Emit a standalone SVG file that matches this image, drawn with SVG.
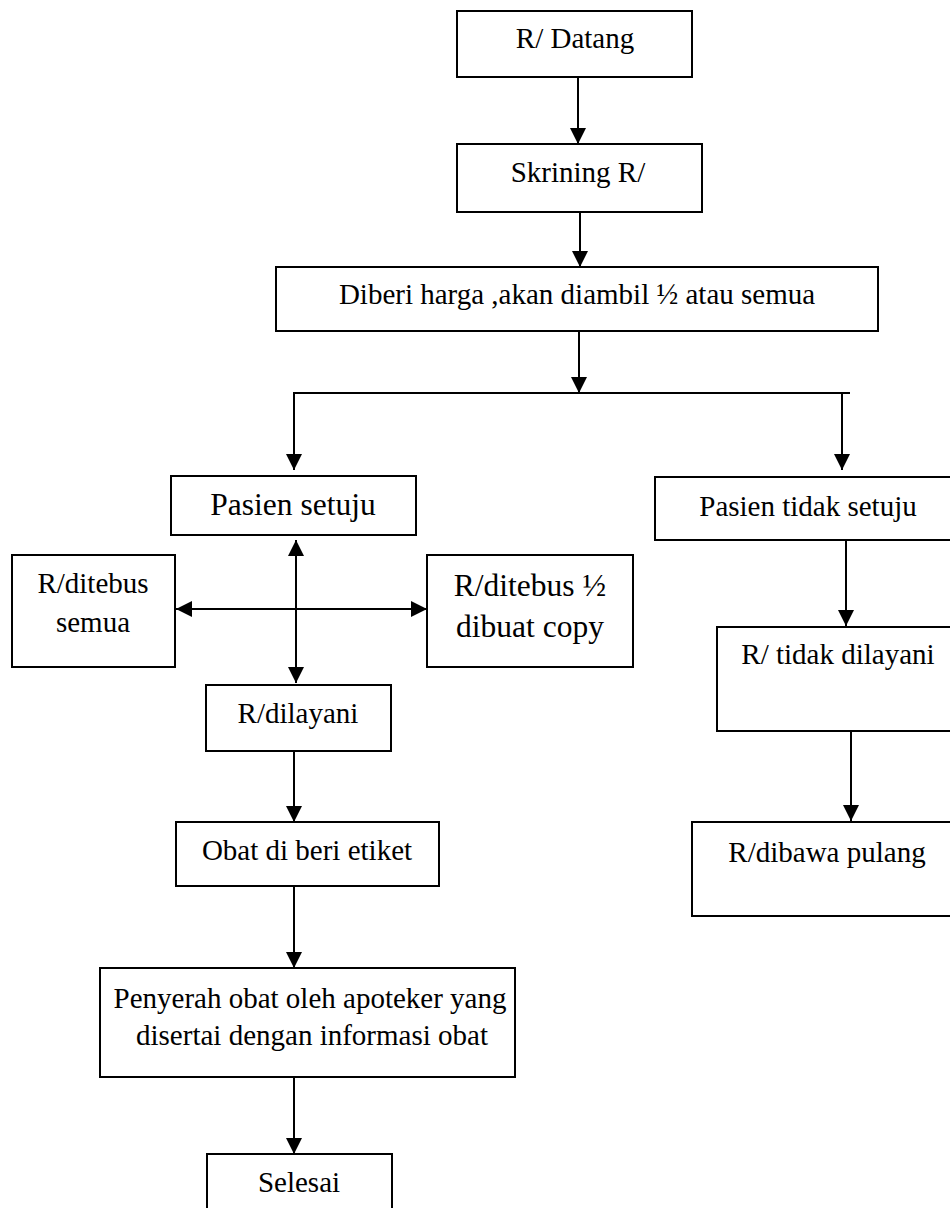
<svg xmlns="http://www.w3.org/2000/svg" width="950" height="1208" viewBox="0 0 950 1208">
<style>
.box{fill:#fff;stroke:#000;stroke-width:2}
.t{font-family:"Liberation Serif","Times New Roman",serif;font-size:29px;fill:#000;text-anchor:middle}
.tl{font-size:31.5px}
.ln{fill:none;stroke:#000;stroke-width:2}
</style>
<defs>
<marker id="ah" viewBox="0 0 16 16" refX="16" refY="8" markerWidth="16" markerHeight="16" markerUnits="userSpaceOnUse" orient="auto-start-reverse">
<path d="M0,0 L16,8 L0,16 Z" fill="#000"/>
</marker>
</defs>
<rect width="950" height="1208" fill="#fff"/>
<g id="connectors">
<line class="ln" x1="578" y1="77" x2="578" y2="144" marker-end="url(#ah)"/>
<line class="ln" x1="580" y1="212" x2="580" y2="267" marker-end="url(#ah)"/>
<line class="ln" x1="579" y1="331" x2="579" y2="393" marker-end="url(#ah)"/>
<line class="ln" x1="293" y1="393" x2="850" y2="393"/>
<line class="ln" x1="294" y1="392" x2="294" y2="470" marker-end="url(#ah)"/>
<line class="ln" x1="842" y1="392" x2="842" y2="470" marker-end="url(#ah)"/>
<line class="ln" x1="296" y1="540" x2="296" y2="683" marker-start="url(#ah)" marker-end="url(#ah)"/>
<line class="ln" x1="176" y1="609" x2="427" y2="609" marker-start="url(#ah)" marker-end="url(#ah)"/>
<line class="ln" x1="294" y1="751" x2="294" y2="822" marker-end="url(#ah)"/>
<line class="ln" x1="294" y1="886" x2="294" y2="968" marker-end="url(#ah)"/>
<line class="ln" x1="294" y1="1077" x2="294" y2="1154" marker-end="url(#ah)"/>
<line class="ln" x1="846" y1="540" x2="846" y2="626" marker-end="url(#ah)"/>
<line class="ln" x1="851" y1="731" x2="851" y2="821" marker-end="url(#ah)"/>
</g>
<g id="n-datang"><rect class="box" x="457" y="11" width="235" height="66"/><text class="t" x="575" y="48">R/ Datang</text></g>
<g id="n-skrining"><rect class="box" x="457" y="144" width="245" height="68"/><text class="t" x="578" y="182">Skrining R/</text></g>
<g id="n-harga"><rect class="box" x="276" y="267" width="602" height="64"/><text class="t" x="577" y="304">Diberi harga ,akan diambil ½ atau semua</text></g>
<g id="n-setuju"><rect class="box" x="171" y="476" width="245" height="59"/><text class="t tl" x="293" y="515">Pasien setuju</text></g>
<g id="n-tidaksetuju"><rect class="box" x="655" y="477" width="310" height="63"/><text class="t" x="808" y="516">Pasien tidak setuju</text></g>
<g id="n-semua"><rect class="box" x="12" y="555" width="163" height="112"/><text class="t" x="93" y="593">R/ditebus</text><text class="t" x="93" y="632">semua</text></g>
<g id="n-setengah"><rect class="box" x="427" y="555" width="206" height="112"/><text class="t tl" x="530" y="596">R/ditebus ½</text><text class="t tl" x="530" y="637">dibuat copy</text></g>
<g id="n-dilayani"><rect class="box" x="206" y="685" width="185" height="66"/><text class="t" x="298" y="723">R/dilayani</text></g>
<g id="n-etiket"><rect class="box" x="176" y="822" width="263" height="64"/><text class="t" x="307" y="860">Obat di beri etiket</text></g>
<g id="n-penyerah"><rect class="box" x="100" y="968" width="415" height="109"/><text class="t" x="310" y="1008">Penyerah obat oleh apoteker yang</text><text class="t" x="312" y="1045">disertai dengan informasi obat</text></g>
<g id="n-selesai"><rect class="box" x="207" y="1154" width="185" height="70"/><text class="t" x="299" y="1192">Selesai</text></g>
<g id="n-tidakdilayani"><rect class="box" x="717" y="627" width="250" height="104"/><text class="t" x="838" y="664">R/ tidak dilayani</text></g>
<g id="n-pulang"><rect class="box" x="692" y="822" width="270" height="94"/><text class="t" x="827" y="862">R/dibawa pulang</text></g>
</svg>
